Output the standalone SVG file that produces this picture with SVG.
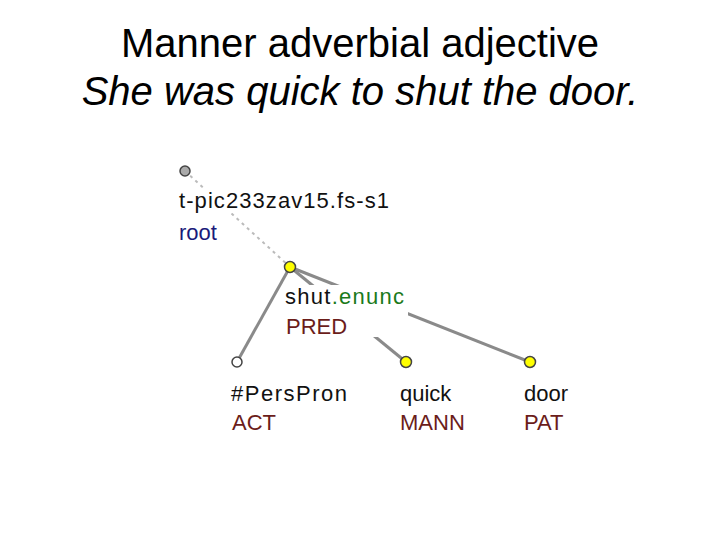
<svg xmlns="http://www.w3.org/2000/svg" width="720" height="540" viewBox="0 0 720 540">
<style>
.t{font-family:"Liberation Sans",Arial,sans-serif;font-size:40px;fill:#000;text-anchor:middle}
.l{font-family:"Liberation Sans",Arial,sans-serif;font-size:22px;fill:#111}
.r{fill:#6b1d1a}
.e{stroke:#8a8a8a;stroke-width:3;fill:none}
.bg{fill:#fff}
.n{stroke:#444;stroke-width:1.5}
</style>
<rect width="720" height="540" fill="#fff"/>
<text class="t" x="360" y="57">Manner adverbial adjective</text>
<text class="t" x="360" y="105" font-style="italic">She was quick to shut the door.</text>
<g id="connectors">
<line x1="185" y1="171" x2="290" y2="267" stroke-dasharray="3,4" stroke-width="2" stroke="#bbb"/>
<line class="e" x1="290" y1="267" x2="237" y2="362"/>
<line class="e" x1="290" y1="267" x2="406" y2="362"/>
<line class="e" x1="290" y1="267" x2="530" y2="362"/>
</g>
<g id="root">
<circle class="n" cx="185" cy="171" r="5" fill="#aaa"/>
<rect class="bg" x="178" y="189" width="214" height="24"/>
<text class="l" x="179" y="208" textLength="210">t-pic233zav15.fs-s1</text>
<text class="l" x="179" y="240" style="fill:#1a1a7a">root</text>
</g>
<g id="shut">
<circle class="n" cx="290" cy="267" r="5.5" fill="#ffff00"/>
<rect class="bg" x="283" y="285" width="125" height="52"/>
<text class="l" x="285" y="304" textLength="119">shut<tspan style="fill:#1a7a1a">.enunc</tspan></text>
<text class="l r" x="286" y="334">PRED</text>
</g>
<g id="perspron">
<circle class="n" cx="237" cy="362" r="5" fill="#fff"/>
<text class="l" x="231" y="401" textLength="116">#PersPron</text>
<text class="l r" x="232" y="430">ACT</text>
</g>
<g id="quick">
<circle class="n" cx="406" cy="362" r="5.5" fill="#ffff00"/>
<text class="l" x="400" y="401">quick</text>
<text class="l r" x="400" y="430">MANN</text>
</g>
<g id="door">
<circle class="n" cx="530" cy="362" r="5.5" fill="#ffff00"/>
<text class="l" x="524" y="401">door</text>
<text class="l r" x="524" y="430">PAT</text>
</g>
</svg>
